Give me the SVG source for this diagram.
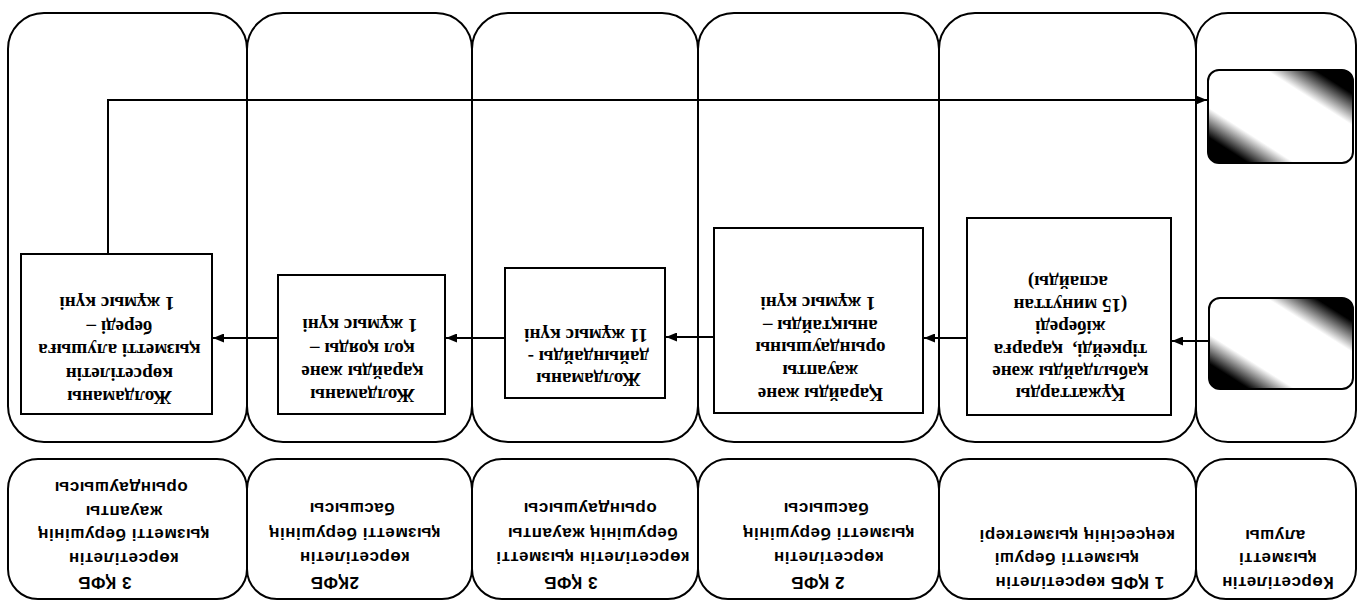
<svg xmlns="http://www.w3.org/2000/svg" width="1361" height="602" viewBox="0 0 1361 602">
  <style>
    .lane { fill: none; stroke: #000; stroke-width: 2; }
    .box { fill: #fff; stroke: #000; stroke-width: 2; }
    .term { fill: url(#shade); stroke: #000; stroke-width: 2; }
    .wire { fill: none; stroke: #000; stroke-width: 2; }
    .bt { font-family: "Liberation Serif", "Times New Roman", serif; font-size: 19px; font-weight: bold; fill: #000; text-anchor: middle; }
    .ht { font-family: "Liberation Sans", Arial, sans-serif; font-size: 17px; font-weight: bold; letter-spacing: 0.5px; fill: #000; text-anchor: middle; }
  </style>
  <defs>
    <marker id="arrow" markerUnits="userSpaceOnUse" markerWidth="11" markerHeight="9" refX="11" refY="4.5" orient="auto">
      <path d="M0,0 L11,4.5 L0,9 z" fill="#000"/>
    </marker>
    <!-- dark corners top-right and bottom-left, light diagonal band -->
    <linearGradient id="shade" x1="1" y1="0" x2="0" y2="1">
      <stop offset="0" stop-color="#000"/>
      <stop offset="0.13" stop-color="#000"/>
      <stop offset="0.30" stop-color="#fff"/>
      <stop offset="0.70" stop-color="#fff"/>
      <stop offset="0.86" stop-color="#000"/>
      <stop offset="1" stop-color="#000"/>
    </linearGradient>
  </defs>

  <rect x="0" y="0" width="1361" height="602" fill="#fff"/>

  <!-- swimlanes -->
  <g id="lanes">
    <rect class="lane" x="8" y="13" width="239" height="429" rx="36"/>
    <rect class="lane" x="247" y="13" width="225" height="429" rx="36"/>
    <rect class="lane" x="472" y="13" width="226" height="429" rx="36"/>
    <rect class="lane" x="698" y="13" width="241" height="429" rx="36"/>
    <rect class="lane" x="939" y="13" width="257" height="429" rx="36"/>
    <rect class="lane" x="1196" y="13" width="160" height="429" rx="32"/>
  </g>

  <!-- lane headers -->
  <g id="header1">
    <rect class="lane" x="8" y="459" width="239" height="140" rx="30"/>
    <g transform="rotate(180 121 534.5)">
      <text class="ht">
        <tspan x="140" y="492.1">3 ҚФБ</tspan>
        <tspan x="121" y="515.9">көрсетілетін</tspan>
        <tspan x="121" y="539.6">қызметті берушінің</tspan>
        <tspan x="121" y="563.4">жауапты</tspan>
        <tspan x="121" y="587.1">орындаушысы</tspan>
      </text>
    </g>
  </g>
  <g id="header2">
    <rect class="lane" x="247" y="459" width="225" height="140" rx="30"/>
    <g transform="rotate(180 352 545)">
      <text class="ht">
        <tspan x="372" y="513.1">2ҚФБ</tspan>
        <tspan x="352" y="537.8">көрсетілетін</tspan>
        <tspan x="352" y="562.4">қызметті берушінің</tspan>
        <tspan x="352" y="587.1">басшысы</tspan>
      </text>
    </g>
  </g>
  <g id="header3">
    <rect class="lane" x="472" y="459" width="226" height="140" rx="30"/>
    <g transform="rotate(180 590 545)">
      <text class="ht">
        <tspan x="612" y="513.1">3 ҚФБ</tspan>
        <tspan x="590" y="537.8">көрсетілетін қызметті</tspan>
        <tspan x="590" y="562.4">берушінің жауапты</tspan>
        <tspan x="590" y="587.1">орындаушысы</tspan>
      </text>
    </g>
  </g>
  <g id="header4">
    <rect class="lane" x="698" y="459" width="241" height="140" rx="30"/>
    <g transform="rotate(180 826 545)">
      <text class="ht">
        <tspan x="837" y="513.1">2 ҚФБ</tspan>
        <tspan x="826" y="537.8">көрсетілетін</tspan>
        <tspan x="826" y="562.4">қызметті берушінің</tspan>
        <tspan x="826" y="587.1">басшысы</tspan>
      </text>
    </g>
  </g>
  <g id="header5">
    <rect class="lane" x="939" y="459" width="257" height="140" rx="30"/>
    <g transform="rotate(180 1077 558.5)">
      <text class="ht">
        <tspan x="1077" y="540.1">1 ҚФБ көрсетілетін</tspan>
        <tspan x="1090" y="563.6">қызметті беруші</tspan>
        <tspan x="1077" y="587.1">кеңсесінің қызметкері</tspan>
      </text>
    </g>
  </g>
  <g id="header6">
    <rect class="lane" x="1196" y="459" width="160" height="140" rx="30"/>
    <g transform="rotate(180 1275 558.5)">
      <text class="ht">
        <tspan x="1275" y="540.1">Көрсетілетін</tspan>
        <tspan x="1275" y="563.6">қызметті</tspan>
        <tspan x="1275" y="587.1">алушы</tspan>
      </text>
    </g>
  </g>

  <!-- start / end terminals -->
  <g id="terminal-end">
    <rect class="term" x="1208" y="70" width="145" height="93" rx="11"/>
  </g>
  <g id="terminal-start">
    <rect class="term" x="1209" y="298" width="144" height="91" rx="11"/>
  </g>

  <!-- process steps -->
  <g id="step1">
    <rect class="box" x="967" y="218" width="204" height="197"/>
    <g transform="rotate(180 1068 338)">
      <text class="bt">
        <tspan x="1068" y="287.7">Құжаттарды</tspan>
        <tspan x="1068" y="310.1">қабылдайды және</tspan>
        <tspan x="1068" y="332.5">тіркейді,&#160; қарарға</tspan>
        <tspan x="1068" y="354.9">жібереді</tspan>
        <tspan x="1068" y="377.3">(15 минуттан</tspan>
        <tspan x="1068" y="399.7">аспайды)</tspan>
      </text>
    </g>
  </g>
  <g id="step2">
    <rect class="box" x="714" y="228" width="209" height="185"/>
    <g transform="rotate(180 818 348)">
      <text class="bt">
        <tspan x="818" y="308.2">Қарайды және</tspan>
        <tspan x="818" y="331">жауапты</tspan>
        <tspan x="818" y="353.7">орындаушыны</tspan>
        <tspan x="818" y="376.5">анықтайды –</tspan>
        <tspan x="818" y="399.2">1 жұмыс күні</tspan>
      </text>
    </g>
  </g>
  <g id="step3">
    <rect class="box" x="505" y="268" width="160" height="130"/>
    <g transform="rotate(180 586 357)">
      <text class="bt">
        <tspan x="586" y="340.7">Жолдаманы</tspan>
        <tspan x="586" y="362.7">дайындайды -</tspan>
        <tspan x="586" y="384.7">11 жұмыс күні</tspan>
      </text>
    </g>
  </g>
  <g id="step4">
    <rect class="box" x="278" y="275" width="167" height="139"/>
    <g transform="rotate(180 360 360)">
      <text class="bt">
        <tspan x="360" y="330.8">Жолдаманы</tspan>
        <tspan x="360" y="354.1">қарайды және</tspan>
        <tspan x="360" y="377.4">қол қояды –</tspan>
        <tspan x="360" y="400.7">1 жұмыс күні</tspan>
      </text>
    </g>
  </g>
  <g id="step5">
    <rect class="box" x="21" y="254" width="191" height="160"/>
    <g transform="rotate(180 117 350)">
      <text class="bt">
        <tspan x="117" y="308.7">Жолдаманы</tspan>
        <tspan x="117" y="332.2">көрсетілетін</tspan>
        <tspan x="117" y="355.7">қызметті алушыға</tspan>
        <tspan x="117" y="379.2">береді –</tspan>
        <tspan x="117" y="402.7">1 жұмыс күні</tspan>
      </text>
    </g>
  </g>

  <!-- flow -->
  <g id="connectors">
    <path class="wire" d="M1209,341 L1172,341" marker-end="url(#arrow)"/>
    <path class="wire" d="M967,338 L924,338" marker-end="url(#arrow)"/>
    <path class="wire" d="M714,337 L666,337" marker-end="url(#arrow)"/>
    <path class="wire" d="M505,338 L446,338" marker-end="url(#arrow)"/>
    <path class="wire" d="M278,338 L213,338" marker-end="url(#arrow)"/>
    <path class="wire" d="M108,254 L108,100 L1207,100" marker-end="url(#arrow)"/>
  </g>
</svg>
